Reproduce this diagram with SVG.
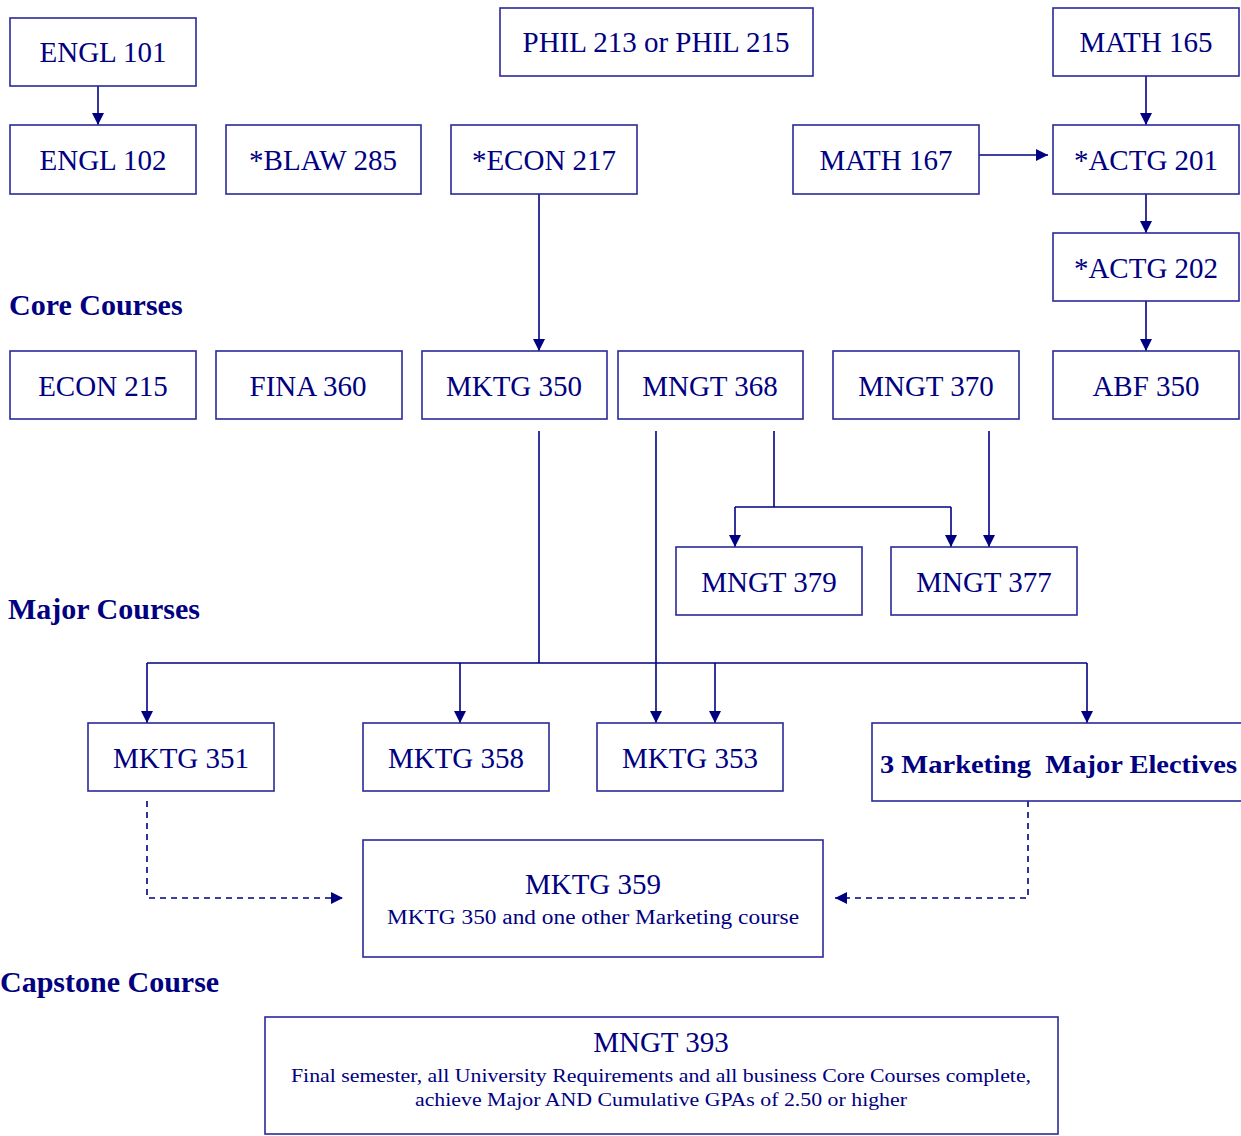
<svg xmlns="http://www.w3.org/2000/svg" width="1241" height="1136" viewBox="0 0 1241 1136">
  <style>
    .box { fill: #ffffff; stroke: #2a2a9c; stroke-width: 1.6; }
    .lbl { font-family: "Liberation Serif", "Times New Roman", serif; font-size: 29px; fill: #000080; text-anchor: middle; }
    .sub { font-family: "Liberation Serif", "Times New Roman", serif; font-size: 20px; fill: #000080; text-anchor: middle; }
    .head { font-family: "Liberation Serif", "Times New Roman", serif; font-size: 30px; font-weight: bold; fill: #000080; }
    .wire { fill: none; stroke: #000080; stroke-width: 1.6; }
    .dash { fill: none; stroke: #000080; stroke-width: 1.6; stroke-dasharray: 6 5; }
  </style>
  <defs>
    <marker id="arr" markerUnits="userSpaceOnUse" markerWidth="12" markerHeight="12" viewBox="0 0 12 12" refX="12" refY="6" orient="auto">
      <path d="M0,0 L12,6 L0,12 Z" fill="#000080"/>
    </marker>
  </defs>
  <rect width="1241" height="1136" fill="#ffffff"/>

  <!-- section headings -->
  <text class="head" x="9" y="315">Core Courses</text>
  <text class="head" x="8" y="619">Major Courses</text>
  <text class="head" x="0" y="992">Capstone Course</text>

  <!-- connectors -->
  <g id="connectors">
    <path class="wire" d="M98,86 V125" marker-end="url(#arr)"/>
    <path class="wire" d="M1146,76 V125" marker-end="url(#arr)"/>
    <path class="wire" d="M979,155 H1048" marker-end="url(#arr)"/>
    <path class="wire" d="M1146,194 V233" marker-end="url(#arr)"/>
    <path class="wire" d="M1146,301 V351" marker-end="url(#arr)"/>
    <path class="wire" d="M539,194 V351" marker-end="url(#arr)"/>
    <!-- MKTG 350 fan-out -->
    <path class="wire" d="M539,431 V663"/>
    <path class="wire" d="M147,663 H1087"/>
    <path class="wire" d="M147,663 V723" marker-end="url(#arr)"/>
    <path class="wire" d="M460,663 V723" marker-end="url(#arr)"/>
    <path class="wire" d="M715,663 V723" marker-end="url(#arr)"/>
    <path class="wire" d="M1087,663 V723" marker-end="url(#arr)"/>
    <!-- MNGT 368 -->
    <path class="wire" d="M656,431 V723" marker-end="url(#arr)"/>
    <path class="wire" d="M774,431 V507"/>
    <path class="wire" d="M735,507 H951"/>
    <path class="wire" d="M735,507 V547" marker-end="url(#arr)"/>
    <path class="wire" d="M951,507 V547" marker-end="url(#arr)"/>
    <!-- MNGT 370 -->
    <path class="wire" d="M989,431 V547" marker-end="url(#arr)"/>
    <!-- dashed paths into MKTG 359 -->
    <path class="dash" d="M147,801 V898 H343" marker-end="url(#arr)"/>
    <path class="dash" d="M1028,801 V898 H835" marker-end="url(#arr)"/>
  </g>

  <!-- nodes -->
  <g id="engl101"><rect class="box" x="10" y="18" width="186" height="68"/><text class="lbl" x="103" y="62">ENGL 101</text></g>
  <g id="phil"><rect class="box" x="500" y="8" width="313" height="68"/><text class="lbl" x="656" y="52">PHIL 213 or PHIL 215</text></g>
  <g id="math165"><rect class="box" x="1053" y="8" width="186" height="68"/><text class="lbl" x="1146" y="52">MATH 165</text></g>
  <g id="engl102"><rect class="box" x="10" y="125" width="186" height="69"/><text class="lbl" x="103" y="170">ENGL 102</text></g>
  <g id="blaw285"><rect class="box" x="226" y="125" width="195" height="69"/><text class="lbl" x="323" y="170">*BLAW 285</text></g>
  <g id="econ217"><rect class="box" x="451" y="125" width="186" height="69"/><text class="lbl" x="544" y="170">*ECON 217</text></g>
  <g id="math167"><rect class="box" x="793" y="125" width="186" height="69"/><text class="lbl" x="886" y="170">MATH 167</text></g>
  <g id="actg201"><rect class="box" x="1053" y="125" width="186" height="69"/><text class="lbl" x="1146" y="170">*ACTG 201</text></g>
  <g id="actg202"><rect class="box" x="1053" y="233" width="186" height="68"/><text class="lbl" x="1146" y="278">*ACTG 202</text></g>

  <g id="econ215"><rect class="box" x="10" y="351" width="186" height="68"/><text class="lbl" x="103" y="396">ECON 215</text></g>
  <g id="fina360"><rect class="box" x="216" y="351" width="186" height="68"/><text class="lbl" x="308" y="396">FINA 360</text></g>
  <g id="mktg350"><rect class="box" x="422" y="351" width="185" height="68"/><text class="lbl" x="514" y="396">MKTG 350</text></g>
  <g id="mngt368"><rect class="box" x="618" y="351" width="185" height="68"/><text class="lbl" x="710" y="396">MNGT 368</text></g>
  <g id="mngt370"><rect class="box" x="833" y="351" width="186" height="68"/><text class="lbl" x="926" y="396">MNGT 370</text></g>
  <g id="abf350"><rect class="box" x="1053" y="351" width="186" height="68"/><text class="lbl" x="1146" y="396">ABF 350</text></g>

  <g id="mngt379"><rect class="box" x="676" y="547" width="186" height="68"/><text class="lbl" x="769" y="592">MNGT 379</text></g>
  <g id="mngt377"><rect class="box" x="891" y="547" width="186" height="68"/><text class="lbl" x="984" y="592">MNGT 377</text></g>

  <g id="mktg351"><rect class="box" x="88" y="723" width="186" height="68"/><text class="lbl" x="181" y="768">MKTG 351</text></g>
  <g id="mktg358"><rect class="box" x="363" y="723" width="186" height="68"/><text class="lbl" x="456" y="768">MKTG 358</text></g>
  <g id="mktg353"><rect class="box" x="597" y="723" width="186" height="68"/><text class="lbl" x="690" y="768">MKTG 353</text></g>
  <g id="electives"><rect class="box" x="872" y="723" width="380" height="78"/><text class="head" x="880" y="773" style="font-size:26px; white-space:pre" textLength="357" lengthAdjust="spacingAndGlyphs">3 Marketing  Major Electives</text></g>

  <g id="mktg359"><rect class="box" x="363" y="840" width="460" height="117"/>
    <text class="lbl" x="593" y="894">MKTG 359</text>
    <text class="sub" x="593" y="924" textLength="412" lengthAdjust="spacingAndGlyphs">MKTG 350 and one other Marketing course</text>
  </g>

  <g id="mngt393"><rect class="box" x="265" y="1017" width="793" height="117"/>
    <text class="lbl" x="661" y="1052">MNGT 393</text>
    <text class="sub" x="661" y="1082" style="font-size:19px" textLength="740" lengthAdjust="spacingAndGlyphs">Final semester, all University Requirements and all business Core Courses complete,</text>
    <text class="sub" x="661" y="1106" style="font-size:19px" textLength="492" lengthAdjust="spacingAndGlyphs">achieve Major AND Cumulative GPAs of 2.50 or higher</text>
  </g>
</svg>
